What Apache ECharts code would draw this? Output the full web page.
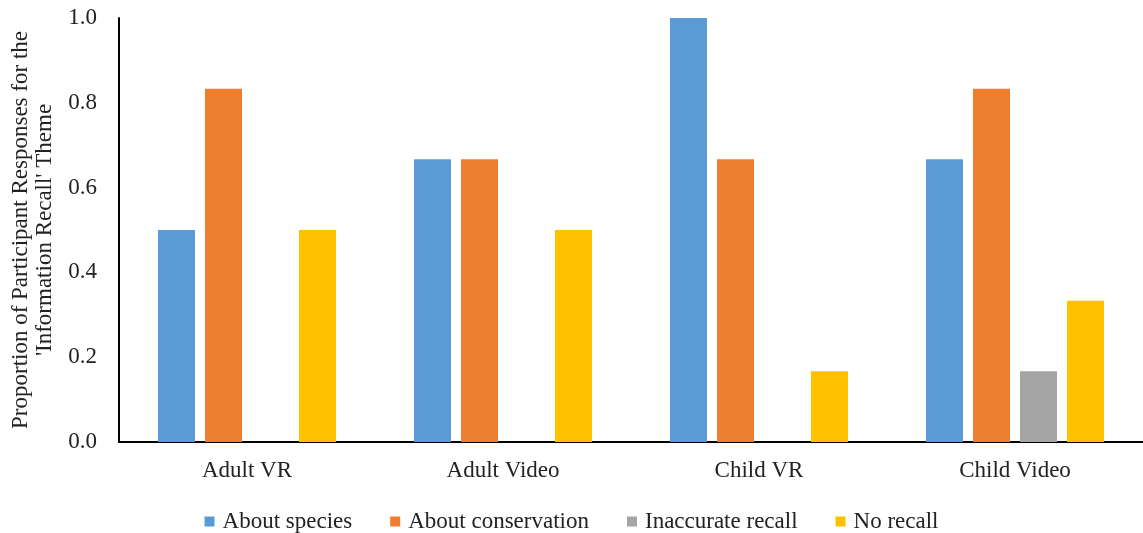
<!DOCTYPE html>
<html><head><meta charset="utf-8">
<script src="https://cdn.jsdelivr.net/npm/echarts@6/dist/echarts.min.js"></script>
<style>html,body{margin:0;padding:0;background:#fff}#c{width:1143px;height:533px}</style>
</head><body><div id="c"></div>
<script>
const categories = ['Adult VR', 'Adult Video', 'Child VR', 'Child Video'];
const aboutSpecies = [0.5, 0.667, 1.0, 0.667];
const aboutConservation = [0.833, 0.667, 0.667, 0.833];
const inaccurateRecall = [0, 0, 0, 0.167];
const noRecall = [0.5, 0.5, 0.167, 0.333];
const seriesNames = ['About species', 'About conservation', 'Inaccurate recall', 'No recall'];
const yTicks = ['0.0', '0.2', '0.4', '0.6', '0.8', '1.0'];
const colors = ['#5B9BD5', '#ED7D31', '#A5A5A5', '#FFC000'];
const font = 'Liberation Serif';
const chart = echarts.init(document.getElementById('c'));
const data = [aboutSpecies, aboutConservation, inaccurateRecall, noRecall];
chart.setOption({
  animation: false,
  textStyle: { fontFamily: font },
  grid: { left: 119, right: 0, top: 18, bottom: 91, containLabel: false, outerBoundsMode: 'none' },
  legend: {
    top: 505, left: 'center', itemWidth: 10, itemHeight: 10, itemGap: 38,
    icon: 'rect',
    textStyle: { fontFamily: font, fontSize: 23, color: '#222', padding: [0, 0, 0, 3] },
    data: seriesNames
  },
  xAxis: {
    type: 'category', data: categories,
    axisLine: { lineStyle: { color: '#000', width: 2 } },
    axisTick: { show: false },
    axisLabel: { fontFamily: font, fontSize: 23, color: '#222', margin: 17 }
  },
  yAxis: {
    type: 'value', min: 0, max: 1, interval: 0.2,
    splitLine: { show: false },
    axisLine: { show: true, lineStyle: { color: '#000', width: 2 } },
    axisTick: { show: false },
    axisLabel: { fontFamily: font, fontSize: 23, color: '#222', margin: 22,
      formatter: (v) => yTicks[Math.round(v * 5)] },
    name: "Proportion of Participant Responses for the\n'Information Recall' Theme",
    nameLocation: 'middle', nameGap: 62,
    nameTextStyle: { fontFamily: font, fontSize: 23, color: '#222', lineHeight: 24 }
  },
  series: seriesNames.map((n, i) => ({
    name: n, type: 'bar', data: data[i],
    barWidth: 37, barGap: '27%',
    itemStyle: { color: colors[i] }
  }))
});
</script></body></html>
